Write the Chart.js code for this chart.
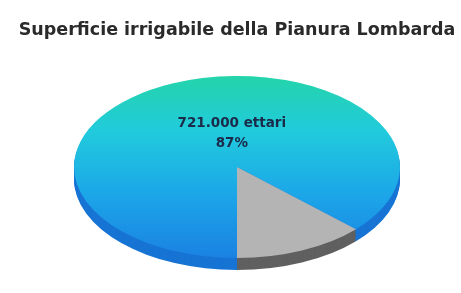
<!DOCTYPE html>
<html>
<head>
<meta charset="utf-8">
<style>
  html, body { margin: 0; padding: 0; background: #fff; }
  #wrap { width: 461px; height: 293px; }
</style>
<script src="https://cdn.jsdelivr.net/npm/chart.js@4.4.0/dist/chart.umd.min.js"></script>
</head>
<body>
<div id="wrap"><canvas id="pieChart"></canvas></div>
<script>
const chartTitle = 'Superficie irrigabile della Pianura Lombarda';
const categories = ['Superficie irrigabile', 'Altra superficie'];
const hectares = [721000, 108000];
const showLabel = [true, false];

const STRETCH = 163 / 91; // pie is drawn as a flat ellipse
const DEPTH = 12;
const sideColors = ['#1774d4', '#606060'];

const formatNumber = (n) => n.toString().replace(/\B(?=(\d{3})+(?!\d))/g, '.');
const total = hectares.reduce((a, b) => a + b, 0);

// top face colours: gradient for the big slice, flat grey for the other
const sliceColor = (context) => {
  if (context.dataIndex === 1) return '#b4b4b4';
  const area = context.chart.chartArea;
  if (!area) return '#22c4e0';
  const g = context.chart.ctx.createLinearGradient(0, area.top, 0, area.bottom);
  g.addColorStop(0, '#24d4aa');
  g.addColorStop(0.3, '#21cbdc');
  g.addColorStop(0.65, '#1ca6e8');
  g.addColorStop(1, '#1a82e2');
  return g;
};

const pie3d = {
  id: 'pie3d',
  beforeDatasetsDraw(chart) {
    const ctx = chart.ctx;
    const meta = chart.getDatasetMeta(0);
    const cx = meta.data[0].x, cy = meta.data[0].y;
    ctx.save();
    ctx.translate(cx, cy);
    ctx.scale(STRETCH, 1);
    ctx.translate(-cx, -cy);
    for (let k = DEPTH; k > 0; k--) {
      meta.data.forEach((arc, i) => {
        ctx.beginPath();
        ctx.moveTo(arc.x, arc.y + k);
        ctx.arc(arc.x, arc.y + k, arc.outerRadius, arc.startAngle, arc.endAngle);
        ctx.closePath();
        ctx.fillStyle = sideColors[i];
        ctx.fill();
      });
    }
  },
  afterDatasetsDraw(chart) {
    const ctx = chart.ctx;
    ctx.restore();
    const meta = chart.getDatasetMeta(0);
    ctx.save();
    ctx.fillStyle = '#1b2a48';
    ctx.font = 'bold 13.5px "DejaVu Sans"';
    ctx.textAlign = 'center';
    ctx.textBaseline = 'middle';
    meta.data.forEach((arc, i) => {
      if (!showLabel[i]) return;
      const mid = (arc.startAngle + arc.endAngle) / 2;
      const lx = arc.x + Math.cos(mid) * arc.outerRadius * STRETCH * 0.08;
      const ly = arc.y + Math.sin(mid) * arc.outerRadius * 0.4;
      const pct = Math.round(hectares[i] / total * 100) + '%';
      ctx.fillText(formatNumber(hectares[i]) + ' ettari', lx, ly - 10);
      ctx.fillText(pct, lx, ly + 10);
    });
    ctx.restore();
  }
};

new Chart(document.getElementById('pieChart'), {
  type: 'pie',
  data: {
    labels: categories,
    datasets: [{
      data: hectares,
      backgroundColor: sliceColor,
      borderWidth: 0
    }]
  },
  options: {
    responsive: true,
    maintainAspectRatio: false,
    animation: false,
    events: [],
    rotation: 180,
    layout: { padding: { left: 13, right: 0, top: 0, bottom: 35 } },
    plugins: {
      legend: { display: false },
      tooltip: { enabled: false },
      title: {
        display: true,
        text: chartTitle,
        color: '#2a2a2a',
        font: { family: 'DejaVu Sans', size: 17.5, weight: 'bold' },
        padding: { top: 20, bottom: 35 }
      }
    }
  },
  plugins: [pie3d]
});
</script>
</body>
</html>
